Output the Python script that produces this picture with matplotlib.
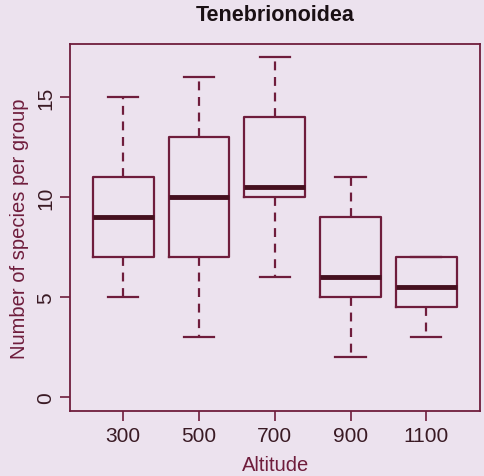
import matplotlib
matplotlib.use("Agg")
import matplotlib.pyplot as plt

# altitude groups and five-number summaries per group
altitudes = ["300", "500", "700", "900", "1100"]
whisker_low = [5, 3, 6, 2, 3]
q1 = [7, 7, 10, 5, 4.5]
medians = [9, 10, 10.5, 6, 5.5]
q3 = [11, 13, 14, 9, 7]
whisker_high = [15, 16, 17, 11, 7]

plt.rcParams["font.family"] = ["Liberation Sans", "DejaVu Sans"]

bg = "#ece2ee"
ink = "#6f1d3c"

fig = plt.figure(figsize=(4.84, 4.77), dpi=100, facecolor=bg)
ax = fig.add_axes([0.145, 0.136, 0.847, 0.770], facecolor=bg)

stats = []
for i, name in enumerate(altitudes):
    stats.append({
        "label": name,
        "whislo": whisker_low[i],
        "q1": q1[i],
        "med": medians[i],
        "q3": q3[i],
        "whishi": whisker_high[i],
    })

ax.bxp(stats, positions=range(1, len(altitudes) + 1), widths=0.8,
       showfliers=False,
       boxprops=dict(color=ink, linewidth=1.6),
       medianprops=dict(color="#45101f", linewidth=3.5, solid_capstyle="butt"),
       whiskerprops=dict(color=ink, linewidth=1.6, linestyle=(0, (4, 3))),
       capprops=dict(color=ink, linewidth=1.6),
       capwidths=0.4)

ax.set_xlim(0.30, 5.71)
ax.set_ylim(-0.7, 17.65)
ax.set_yticks([0, 5, 10, 15])
ax.set_yticklabels(["0", "5", "10", "15"], rotation=90, va="center")

for s in ax.spines.values():
    s.set_color(ink)
    s.set_linewidth(1.3)
ax.tick_params(colors=ink, labelcolor="#3a1a24", length=7, width=1.2,
               labelsize=15, pad=4)

ax.set_title("Tenebrionoidea", fontsize=15.5, fontweight="bold", color="#1a1014", pad=17)
ax.set_xlabel("Altitude", fontsize=14.5, color=ink, labelpad=7)
ax.set_ylabel("Number of species per group", fontsize=14.5, color=ink, labelpad=5)

fig.savefig("out.png", dpi=100, facecolor=bg)
